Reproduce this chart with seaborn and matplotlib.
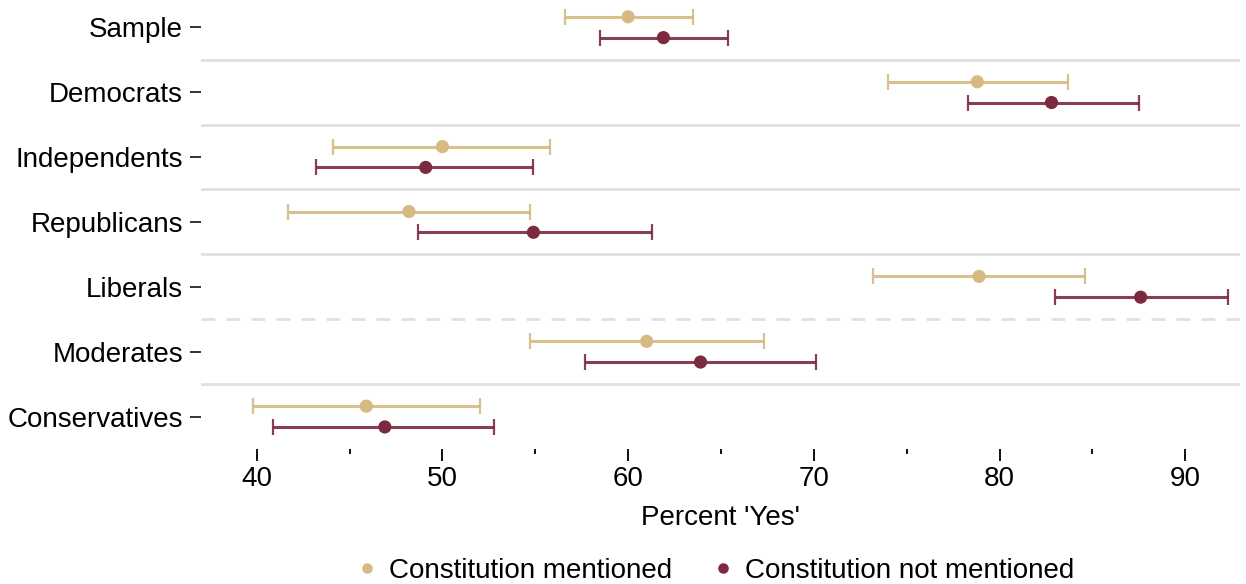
import matplotlib
matplotlib.use("Agg")
import matplotlib.pyplot as plt
import numpy as np
import pandas as pd
import seaborn as sns
from matplotlib.ticker import MultipleLocator

# groups, top to bottom
groups = ["Sample", "Democrats", "Independents", "Republicans",
          "Liberals", "Moderates", "Conservatives"]

# Constitution mentioned: estimate with lower / upper bound
mention_est = [60.0, 78.8, 50.0, 48.2, 78.9, 61.0, 45.9]
mention_lo = [56.6, 74.0, 44.1, 41.7, 73.2, 54.7, 39.8]
mention_hi = [63.5, 83.7, 55.8, 54.7, 84.6, 67.3, 52.0]

# Constitution not mentioned
nomention_est = [61.9, 82.8, 49.1, 54.9, 87.6, 63.9, 46.9]
nomention_lo = [58.5, 78.3, 43.2, 48.7, 83.0, 57.7, 40.9]
nomention_hi = [65.4, 87.5, 54.9, 61.3, 92.3, 70.1, 52.8]

labels = ["Constitution mentioned", "Constitution not mentioned"]
colors = ["#D5BB82", "#7B2A3F"]

rows = []
for i, g in enumerate(groups):
    rows.append({"group": g, "pos": i - 0.16, "cond": labels[0],
                 "est": mention_est[i], "lo": mention_lo[i], "hi": mention_hi[i]})
    rows.append({"group": g, "pos": i + 0.16, "cond": labels[1],
                 "est": nomention_est[i], "lo": nomention_lo[i], "hi": nomention_hi[i]})
df = pd.DataFrame(rows)

sns.set_theme(style="white")
plt.rcParams["font.family"] = ["Liberation Sans", "DejaVu Sans"]
plt.rcParams["text.color"] = "black"
plt.rcParams["axes.labelcolor"] = "black"
plt.rcParams["xtick.labelcolor"] = "black"
plt.rcParams["ytick.labelcolor"] = "black"

fig = plt.figure(figsize=(12.46, 5.84), dpi=100)
ax = fig.add_axes([201 / 1246, 1 - 449 / 584, 1039 / 1246, 449 / 584])

# separators between groups
for b in [0.5, 1.5, 2.5, 3.5, 5.5]:
    ax.axhline(b, color="#E0E0E0", lw=2, zorder=0)
ax.axhline(4.5, color="#E0E0E0", lw=2, ls=(0, (5, 4)), zorder=0)

for cond, col in zip(labels, colors):
    sub = df[df["cond"] == cond]
    ax.errorbar(sub["est"], sub["pos"],
                xerr=[sub["est"] - sub["lo"], sub["hi"] - sub["est"]],
                fmt="none", ecolor=col, elinewidth=2.2, capsize=5.5,
                capthick=1.6, alpha=0.9, zorder=2)

sns.scatterplot(data=df, x="est", y="pos", hue="cond", palette=colors,
                s=90, edgecolor="none", ax=ax, zorder=3)

ax.set_xlim(37.0, 92.95)
ax.set_ylim(6.5, -0.42)
ax.set_yticks(range(len(groups)))
ax.set_yticklabels(groups)
ax.xaxis.set_major_locator(MultipleLocator(10))
ax.xaxis.set_minor_locator(MultipleLocator(5))
ax.tick_params(axis="x", which="major", length=8.5, width=1.4, color="#111111",
               labelsize=20, pad=4, bottom=True)
ax.tick_params(axis="x", which="minor", length=3.8, width=1.4, color="#111111",
               bottom=True)
ax.tick_params(axis="y", length=8, width=1.2, color="#111111",
               labelsize=20, pad=5, left=True)
for s in ax.spines.values():
    s.set_visible(False)

ax.set_xlabel("Percent 'Yes'", fontsize=20, labelpad=9)
ax.set_ylabel("")

ax.legend(title=None, loc="center", bbox_to_anchor=(0.495, -0.272),
          ncol=2, frameon=False, fontsize=20, handlelength=0.8,
          handletextpad=0.39, columnspacing=1.43, markerscale=0.8)

fig.savefig("out.png", dpi=100)
